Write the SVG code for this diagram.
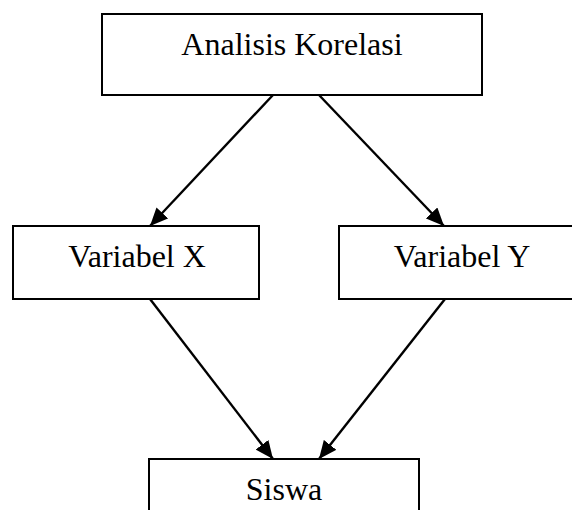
<svg xmlns="http://www.w3.org/2000/svg" width="572" height="510" viewBox="0 0 572 510">
<defs>
<style>
.box{fill:#fff;stroke:#000;stroke-width:2}
.lbl{font-family:"Liberation Serif","Times New Roman",serif;font-size:32px;fill:#000;text-anchor:middle}
.edge{stroke:#000;stroke-width:2.4;fill:none;marker-end:url(#ah)}
</style>
<marker id="ah" markerUnits="userSpaceOnUse" markerWidth="18" markerHeight="16" refX="18" refY="8" orient="auto">
<path d="M0,0 L18,8 L0,16 Z" fill="#000"/>
</marker>
</defs>
<rect width="572" height="510" fill="#fff"/>
<g id="analisis">
<rect class="box" x="102" y="14" width="380" height="81"/>
<text class="lbl" x="292" y="55">Analisis Korelasi</text>
</g>
<g id="varx">
<rect class="box" x="13" y="226" width="246" height="73"/>
<text class="lbl" x="137" y="267">Variabel X</text>
</g>
<g id="vary">
<rect class="box" x="339" y="226" width="246" height="73"/>
<text class="lbl" x="462" y="267">Variabel Y</text>
</g>
<g id="siswa">
<rect class="box" x="149" y="459" width="270" height="80"/>
<text class="lbl" x="284" y="500">Siswa</text>
</g>
<g id="connectors">
<line class="edge" x1="273" y1="95" x2="150" y2="226"/>
<line class="edge" x1="319" y1="95" x2="444" y2="226"/>
<line class="edge" x1="150" y1="299" x2="273" y2="459"/>
<line class="edge" x1="445" y1="299" x2="319" y2="459"/>
</g>
</svg>
